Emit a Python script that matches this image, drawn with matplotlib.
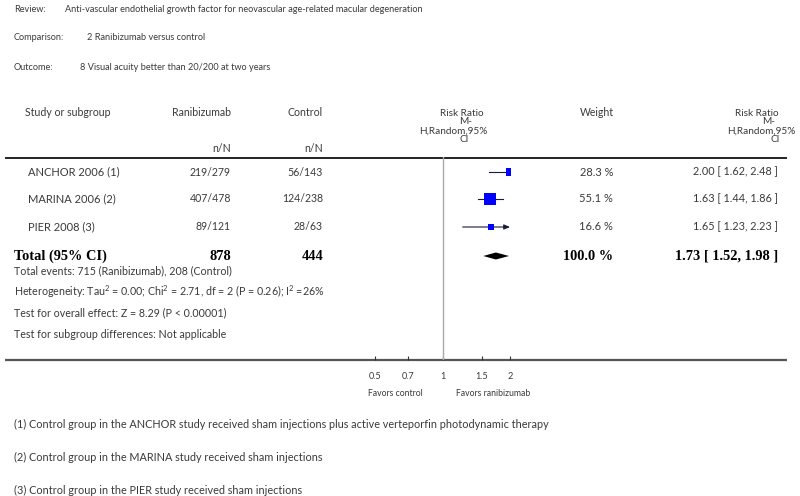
import numpy as np
import matplotlib; matplotlib.use("Agg")
import matplotlib.pyplot as plt

# ---------------------------------------------------------------- data
studies = ["ANCHOR 2006 (1)", "MARINA 2006 (2)", "PIER 2008 (3)"]
rani_n = [219, 407, 89]
rani_N = [279, 478, 121]
ctrl_n = [56, 124, 28]
ctrl_N = [143, 238, 63]
rr = [2.00, 1.63, 1.65]
rr_lo = [1.62, 1.44, 1.23]
rr_hi = [2.48, 1.86, 2.23]
weight = [28.3, 55.1, 16.6]
total_rr, total_lo, total_hi = 1.73, 1.52, 1.98
xticks = [0.5, 0.7, 1, 1.5, 2]
xticklabels = ["0.5", "0.7", "1", "1.5", "2"]

review = "Anti-vascular endothelial growth factor for neovascular age-related macular degeneration"
comparison = "2 Ranibizumab versus control"
outcome = "8 Visual acuity better than 20/200 at two years"
stats_lines = ["Total events: 715 (Ranibizumab), 208 (Control)",
               "Heterogeneity: Tau$^2$ = 0.00; Chi$^2$ = 2.71, df = 2 (P = 0.26); I$^2$ =26%",
               "Test for overall effect: Z = 8.29 (P < 0.00001)",
               "Test for subgroup differences: Not applicable"]
footnotes = ["(1) Control group in the ANCHOR study received sham injections plus active verteporfin photodynamic therapy",
             "(2) Control group in the MARINA study received sham injections",
             "(3) Control group in the PIER study received sham injections"]

# ---------------------------------------------------------------- layout (pixels)
W, H = 800, 496
SANS = ["Lato", "DejaVu Sans"]
SERIF = ["Liberation Serif", "DejaVu Serif"]
TC = "#3a3a3a"; FS = 7.6
row_y = [172, 199, 227]; tot_y = 256
plt.rcParams["mathtext.fontset"] = "custom"
plt.rcParams["mathtext.rm"] = "Lato"

fig = plt.figure(figsize=(W / 100, H / 100), dpi=100)
ax = fig.add_axes([0, 0, 1, 1]); ax.set_xlim(0, W); ax.set_ylim(H, 0); ax.axis("off")

def t(x, y, s, ha="left", fs=FS, fam=SANS, **kw):
    kw.setdefault("color", TC)
    ax.text(x, y, s, ha=ha, va="center", fontsize=fs, family=fam, **kw)

t(14, 10, "Review:", fs=6.6); t(65, 10, review, fs=6.6)
t(14, 38, "Comparison:", fs=6.6); t(87, 38, comparison, fs=6.6)
t(14, 67, "Outcome:", fs=6.6); t(80, 67, outcome, fs=6.6)

t(25, 112, "Study or subgroup"); t(231, 112, "Ranibizumab", "right"); t(323, 112, "Control", "right")
t(231, 148, "n/N", "right"); t(323, 148, "n/N", "right")
for x, txt, y in [(484, "Risk Ratio", 113), (472, "M-", 122), (488, "H,Random,95%", 131), (469, "CI", 140)]:
    t(x, y, txt, "right", fs=7.2)
t(614, 113, "Weight", "right")
for x, txt, y in [(779, "Risk Ratio", 113), (775, "M-", 122), (796, "H,Random,95%", 131), (780, "CI", 140)]:
    t(x, y, txt, "right", fs=7.2)
ax.plot([5, 787], [157.5, 157.5], color="#111", lw=1.3, solid_capstyle="butt")
ax.plot([5, 787], [359.5, 359.5], color="#555", lw=1.6, solid_capstyle="butt")

for i, y in enumerate(row_y):
    t(28, y, studies[i], fs=8.0)
    t(231, y, f"{rani_n[i]}/{rani_N[i]}", "right")
    t(323, y, f"{ctrl_n[i]}/{ctrl_N[i]}", "right")
    t(613, y, f"{weight[i]:.1f} %", "right", fs=8.0)
    t(778, y, f"{rr[i]:.2f} [ {rr_lo[i]:.2f}, {rr_hi[i]:.2f} ]", "right", fs=7.8)

bold = dict(fs=10.4, fam=SERIF, weight="bold", color="black")
t(14, tot_y, "Total (95% CI)", **bold)
t(231, tot_y, f"{sum(rani_N)}", "right", **bold)
t(323, tot_y, f"{sum(ctrl_N)}", "right", **bold)
t(613, tot_y, f"{sum(weight):.1f} %", "right", **bold)
t(778, tot_y, f"{total_rr:.2f} [ {total_lo:.2f}, {total_hi:.2f} ]", "right", **bold)

for k, s in enumerate(stats_lines):
    t(14, 271 + 21 * k, s, fs=7.7)
t(395, 393, "Favors control", "center", fs=6.2)
t(493, 393, "Favors ranibizumab", "center", fs=6.2)
for k, s in enumerate(footnotes):
    t(14, 424 + 33 * k, s, fs=7.8)

# ---------------------------------------------------------------- forest panel
x0, x1, ytop, ybot = 375, 510, 157, 359.5
fx = fig.add_axes([x0 / W, 1 - ybot / H, (x1 - x0) / W, (ybot - ytop) / H])
fx.set_xscale("log"); fx.set_xlim(0.5, 2); fx.set_ylim(ybot, ytop)
fx.patch.set_visible(False)
for s in fx.spines.values(): s.set_visible(False)
fx.set_yticks([])
fx.set_xticks(xticks); fx.set_xticklabels(xticklabels); fx.minorticks_off()
fx.tick_params(axis="x", direction="in", length=3, width=0.8, color="#333", pad=9,
               labelsize=6.6, labelcolor=TC)
for lab in fx.get_xticklabels(): lab.set_family(SANS)
fx.axvline(1, color="#aaaaaa", lw=1)

for i, y in enumerate(row_y):
    if rr_hi[i] > 2 and rr[i] < 2:
        fx.annotate("", xy=(2, y), xytext=(rr_lo[i], y),
                    arrowprops=dict(arrowstyle="-|>,head_length=0.35,head_width=0.15", color="#1a1a40", lw=0.8,
                                    shrinkA=0, shrinkB=0))
    else:
        fx.plot([rr_lo[i], min(rr_hi[i], 2)], [y, y], color="#1a1a40", lw=0.8)
    side = (3 + 0.15 * weight[i]) * 0.72
    fx.scatter([rr[i]], [y], marker="s", s=side ** 2, color="#0000ff", linewidths=0, zorder=3)

fx.fill([total_lo, total_rr, total_hi, total_rr], [tot_y, tot_y - 3.5, tot_y, tot_y + 3.5],
        color="black", lw=0)

fig.savefig("out.png", dpi=100)
